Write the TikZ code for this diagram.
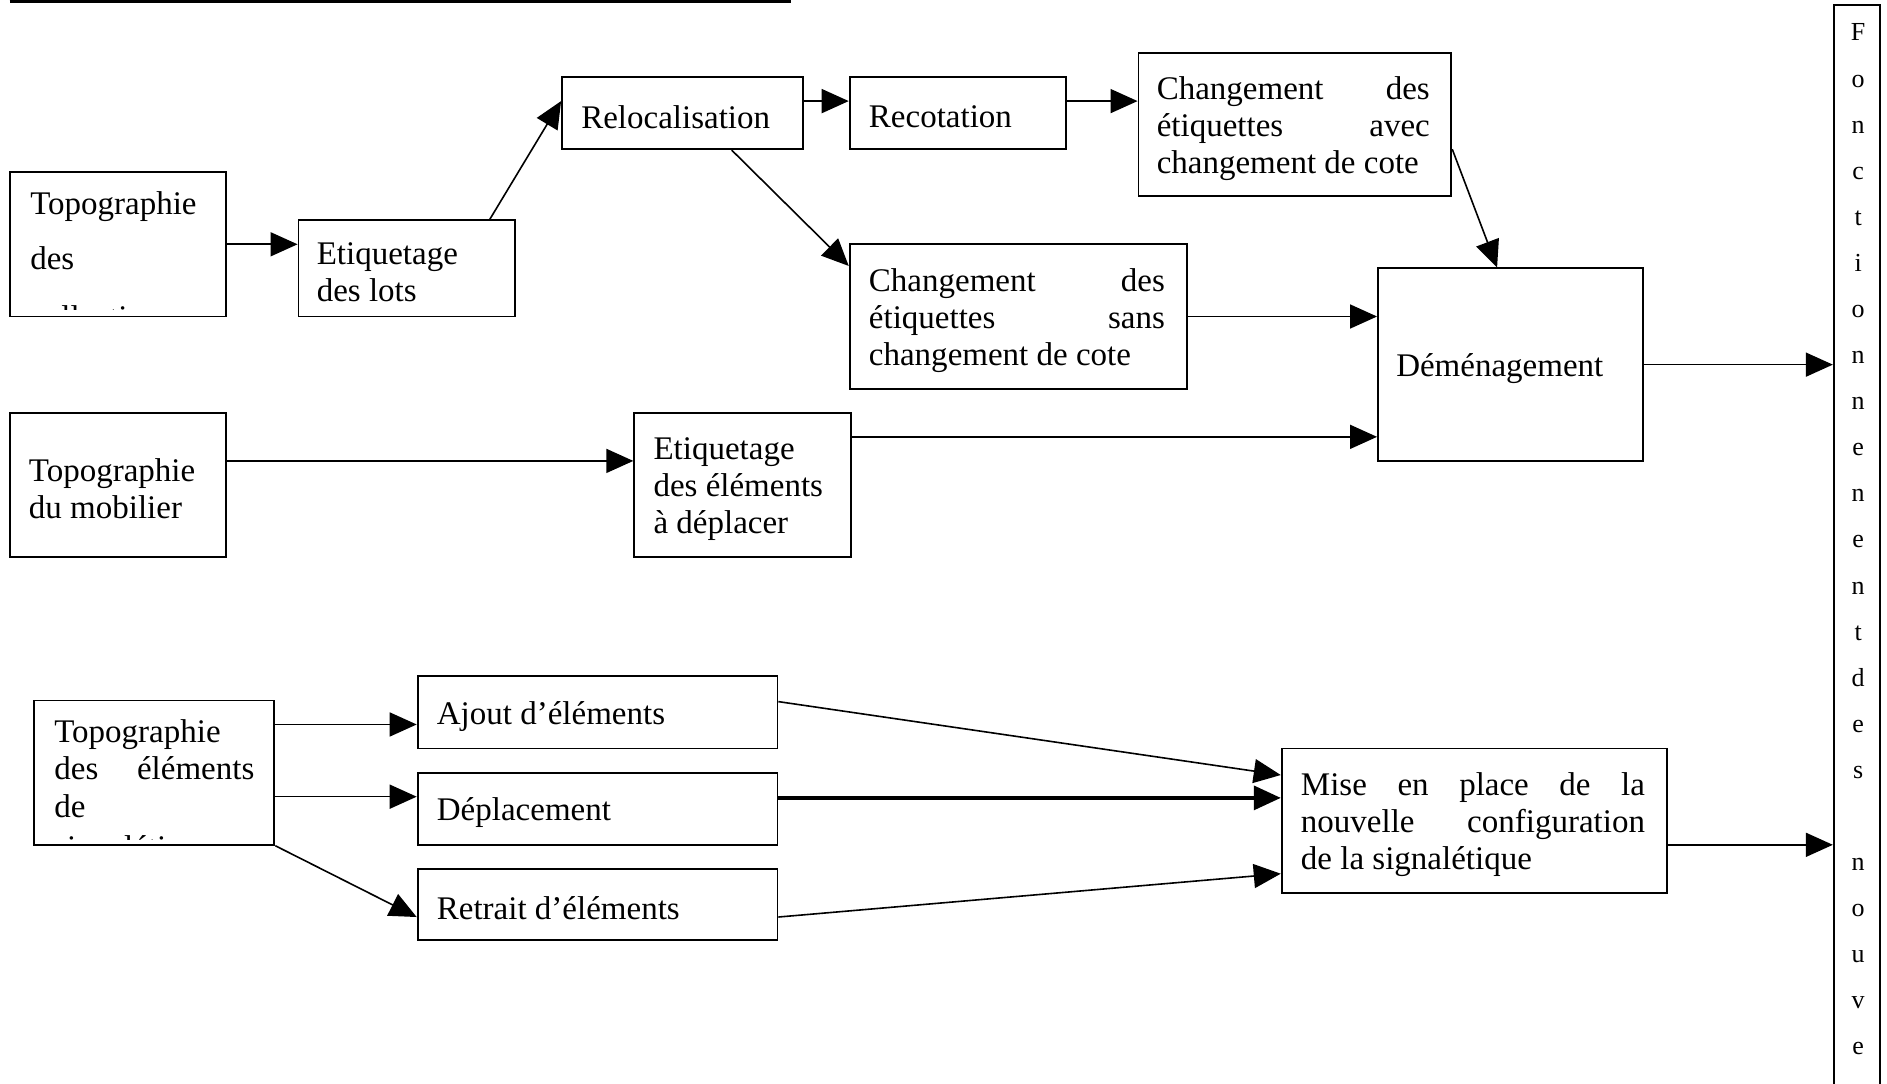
\documentclass[tikz,border=0pt]{standalone}
\usepackage{fontspec}
\setmainfont{Liberation Serif}
\usetikzlibrary{arrows.meta,fit,calc}
\newcommand\bxfont{\fontsize{33}{36.7}\selectfont}
\newcommand\vlfont{\fontsize{26}{30}\selectfont}
\tikzset{
  box/.style={draw, line width=1.8pt, inner sep=0pt, rectangle},
  txt/.style={inner sep=0pt, anchor=west, align=left, font=\bxfont, yshift=-4pt},
  linetxt/.style={inner sep=0pt, anchor=base west, font=\bxfont},
  vletter/.style={inner sep=0pt, anchor=base, font=\vlfont},
  arr/.style={line width=1.6pt, -{Triangle[length=27pt,width=24pt]}},
  heavy/.style={line width=3.4pt},
}
\begin{document}
\begin{tikzpicture}[x=1.2034pt, y=-1.2034pt]
\useasboundingbox (0,0) rectangle (1568,900);
\fill[white] (0,0) rectangle (1568,900);
\clip (0,0) rectangle (1568,900);

% top underline
\draw[line width=2.6pt] (8,1) -- (657,1);

% boxes
\node[box, fit={(8,143) (188,263)}] (A) {};
\node[box, fit={(248,183) (428,263)}] (B) {};
\node[box, fit={(467,64) (667,124)}] (C) {};
\node[box, fit={(706,64) (886,124)}] (D) {};
\node[box, fit={(946,44) (1206,163)}] (E) {};
\node[box, fit={(706,203) (986,323)}] (F) {};
\node[box, fit={(1145,223) (1365,383)}] (G) {};
\node[box, fit={(8,343) (188,463)}] (H) {};
\node[box, fit={(527,343) (707,463)}] (I) {};
\node[box, fit={(28,582) (228,702)}] (J) {};
\node[box, fit={(347,562) (646,622)}] (K) {};
\node[box, fit={(347,642) (646,702)}] (L) {};
\node[box, fit={(347,722) (646,781)}] (M) {};
\node[box, fit={(1065,622) (1385,742)}] (N) {};
\node[box, line width=2.4pt, fit={(1524,4) (1562,920)}] (O) {};

% texts
\begin{scope}
\clip (A.north west) rectangle ([yshift=8pt]A.south east);
\node[linetxt] (tA1) at (25,178) {Topographie};
\node[linetxt] (tA2) at (25,224) {des};
\node[linetxt] (tA3) at (25,273) {collections};
\end{scope}
\node[txt] (tB) at ([xshift=19pt]B.west) {Etiquetage\\des lots};
\node[txt] (tC) at ([xshift=20pt]C.west) {Relocalisation};
\node[txt] (tD) at ([xshift=20pt]D.west) {Recotation};
\node[txt] (tE) at ([xshift=19pt]E.west) {\makebox[273pt][s]{Changement des}\\\makebox[273pt][s]{étiquettes avec}\\changement de cote};
\node[txt] (tF) at ([xshift=20pt]F.west) {\makebox[296pt][s]{Changement des}\\\makebox[296pt][s]{étiquettes sans}\\changement de cote};
\node[txt] (tG) at ([xshift=19pt]G.west) {Déménagement};
\node[txt] (tH) at ([xshift=20pt]H.west) {Topographie\\du mobilier};
\node[txt] (tI) at ([xshift=20pt]I.west) {Etiquetage\\des éléments\\à déplacer};
\begin{scope}
\clip (J.north west) rectangle ([yshift=6pt]J.south east);
\node[linetxt] (tJ1) at (45,617) {Topographie};
\node[linetxt] (tJ2) at (45,648) {\makebox[200pt][s]{des éléments}};
\node[linetxt] (tJ3) at (45,679) {de};
\node[linetxt] (tJ4) at (45,713) {signalétique};
\end{scope}
\node[txt] (tK) at ([xshift=20pt]K.west) {Ajout d’éléments};
\node[txt] (tL) at ([xshift=20pt]L.west) {Déplacement};
\node[txt] (tM) at ([xshift=20pt]M.west) {Retrait d’éléments};
\node[txt] (tN) at ([xshift=20pt]N.west) {\makebox[344pt][s]{Mise en place de la}\\\makebox[344pt][s]{nouvelle configuration}\\de la signalétique};

% vertical letters
\foreach \ch [count=\k from 0] in {F,o,n,c,t,i,o,n,n,e,n,e,n,t,d,e,s,{},n,o,u,v,e}{
  \node[vletter] (v\k) at (1544,{34+38.3*\k}) {\ch};
}

% connectors
\draw[arr] (A.east |- 0,203) -- (B.west |- 0,203);
\draw[arr] (B.north -| 407,0) -- (C.west |- 0,84);
\draw[arr] (C.east |- 0,84) -- (D.west |- 0,84);
\draw[arr] (D.east |- 0,84) -- (E.west |- 0,84);
\draw[arr] (C.south -| 608,0) -- (F.west |- 0,221);
\draw[arr] (E.east |- 0,124) -- (G.north -| 1244,0);
\draw[arr] (F.east |- 0,263) -- (G.west |- 0,263);
\draw[arr] (H.east |- 0,383) -- (I.west |- 0,383);
\draw[arr] (I.east |- 0,363) -- (G.west |- 0,363);
\draw[arr] (G.east |- 0,303) -- (O.west |- 0,303);
\draw[arr] (J.east |- 0,602) -- (K.west |- 0,602);
\draw[arr] (J.east |- 0,662) -- (L.west |- 0,662);
\draw[arr] (J.south east) -- (M.west |- 0,762);
\draw[arr] (K.east |- 0,583) -- (N.west |- 0,644);
\draw[arr, heavy] (L.east |- 0,663) -- (N.west |- 0,663);
\draw[arr] (M.east |- 0,762) -- (N.west |- 0,726);
\draw[arr] (N.east |- 0,702) -- (O.west |- 0,702);
\end{tikzpicture}
\end{document}
